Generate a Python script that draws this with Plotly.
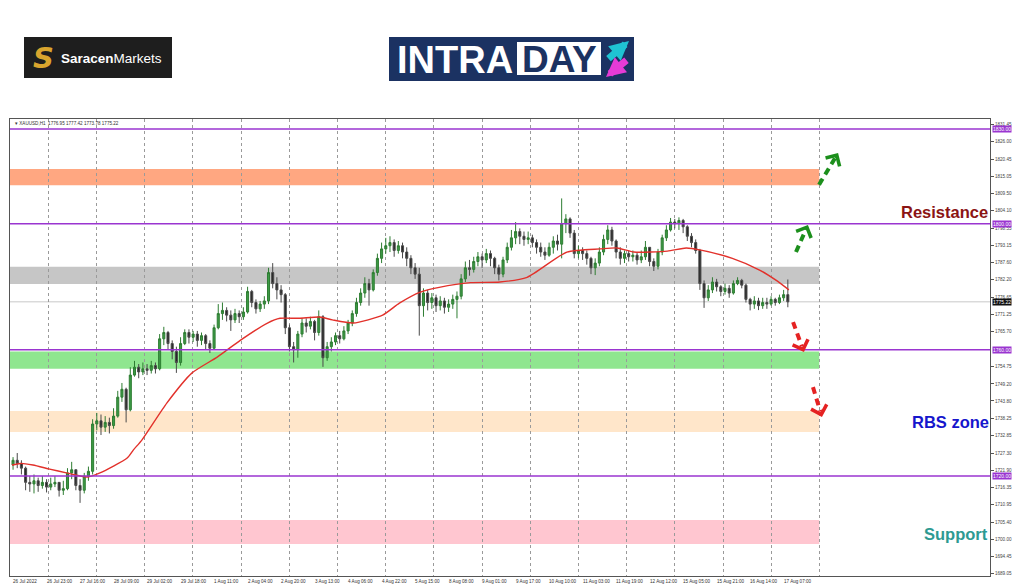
import plotly.graph_objects as go

# ---------------- data ----------------
# 2-hour candles, XAUUSD H1 chart 26 Jul 2022 -> 17 Aug 2022
first_open = 1723.5
closes = [
    1725.0, 1724.0, 1722.5, 1718.0, 1717.5, 1718.5, 1717.0, 1718.0, 1716.5, 1717.5,
    1718.0, 1715.5, 1716.0, 1721.0, 1722.0, 1717.0, 1715.5, 1720.0, 1721.5, 1736.5,
    1737.5, 1735.5, 1737.0, 1736.0, 1739.0, 1745.0, 1747.5, 1741.0, 1752.0, 1754.5,
    1753.0, 1754.0, 1753.5, 1755.0, 1754.0, 1763.5, 1765.5, 1762.0, 1759.5, 1756.0,
    1762.0, 1765.5, 1764.0, 1765.0, 1763.0, 1764.5, 1762.0, 1760.5, 1767.0, 1771.5,
    1772.5, 1771.0, 1769.5, 1771.5, 1770.5, 1772.0, 1778.5, 1775.0, 1773.0, 1774.5,
    1775.5, 1784.5, 1781.0, 1779.0, 1777.5, 1767.0, 1761.0, 1760.0, 1765.0, 1768.5,
    1767.5, 1769.0, 1765.5, 1770.5, 1757.5, 1761.0, 1762.5, 1764.5, 1763.5, 1766.0,
    1768.5, 1771.5, 1775.0, 1778.0, 1781.0, 1779.0, 1784.5, 1789.0, 1792.0, 1793.0,
    1794.0, 1791.5, 1793.0, 1791.0, 1789.0, 1786.0, 1784.0, 1774.0, 1778.0, 1775.0,
    1776.5, 1774.0, 1775.5, 1773.5, 1774.5, 1776.0, 1777.0, 1782.5, 1786.0, 1785.5,
    1788.0, 1789.5, 1788.5, 1790.5, 1789.0, 1786.0, 1784.0, 1788.5, 1792.5, 1795.5,
    1797.5, 1796.0, 1795.0, 1795.5, 1794.0, 1792.5, 1791.0, 1790.0, 1792.5, 1794.5,
    1793.5, 1800.0, 1801.5, 1797.0, 1790.5, 1791.5, 1790.5, 1789.0, 1786.0, 1787.5,
    1791.0, 1795.0, 1798.0, 1794.5, 1791.0, 1789.0, 1790.5, 1789.5, 1790.0, 1788.5,
    1789.5, 1792.5, 1788.0, 1786.5, 1791.0, 1795.5, 1798.0, 1800.5, 1800.0, 1801.0,
    1799.0, 1796.0, 1794.0, 1791.5, 1781.0, 1776.5, 1779.0, 1781.5, 1780.0, 1778.5,
    1779.5, 1778.0, 1781.0, 1782.0, 1780.5, 1776.0, 1774.5, 1775.5, 1774.0, 1775.0,
    1774.5, 1776.0, 1775.0, 1776.5, 1777.5, 1775.22,
]
highs = [
    1726.0, 1727.3, 1725.0, 1723.0, 1720.0, 1720.5, 1719.5, 1720.0, 1719.0, 1719.5,
    1720.0, 1718.0, 1718.5, 1722.5, 1724.5, 1722.0, 1719.0, 1721.0, 1723.0, 1738.0,
    1740.0, 1739.5, 1739.0, 1738.5, 1741.5, 1747.0, 1749.5, 1748.0, 1754.5, 1756.5,
    1755.5, 1756.0, 1755.5, 1756.5, 1756.0, 1765.0, 1767.3, 1766.0, 1763.0, 1761.0,
    1764.0, 1766.5, 1766.5, 1766.0, 1766.0, 1765.5, 1765.0, 1763.0, 1768.0, 1774.5,
    1775.0, 1773.5, 1772.5, 1773.0, 1772.5, 1773.5, 1780.0, 1779.0, 1776.0, 1775.5,
    1777.0, 1786.0, 1787.5, 1783.0, 1780.5, 1778.0, 1768.0, 1762.5, 1766.0, 1770.0,
    1770.0, 1770.5, 1769.5, 1772.5, 1771.0, 1762.5, 1764.0, 1765.5, 1766.0, 1767.5,
    1769.5, 1772.5, 1776.5, 1779.5, 1783.0, 1782.5, 1785.5, 1790.5, 1794.0, 1795.5,
    1796.0, 1795.0, 1794.5, 1794.0, 1792.5, 1790.0, 1787.5, 1786.0, 1779.5, 1779.0,
    1778.0, 1777.5, 1777.0, 1776.5, 1776.0, 1777.5, 1778.5, 1784.0, 1788.0, 1788.5,
    1789.5, 1791.0, 1790.5, 1792.0, 1791.5, 1789.5, 1787.0, 1789.5, 1794.0, 1798.0,
    1800.5, 1798.5, 1797.5, 1797.5, 1796.5, 1795.0, 1794.0, 1792.5, 1794.0, 1796.0,
    1796.5, 1808.0, 1803.0, 1802.0, 1798.0, 1793.0, 1792.5, 1791.5, 1789.5, 1789.0,
    1792.5, 1796.5, 1799.5, 1799.0, 1795.0, 1792.5, 1791.5, 1791.5, 1791.5, 1791.0,
    1791.5, 1794.5, 1792.5, 1789.0, 1792.0, 1796.5, 1799.5, 1801.8, 1801.5, 1802.0,
    1801.5, 1799.5, 1797.0, 1795.0, 1792.0, 1782.0, 1780.5, 1783.0, 1782.5, 1780.5,
    1781.0, 1780.5, 1782.0, 1783.0, 1782.5, 1781.0, 1776.5, 1777.0, 1776.5, 1776.5,
    1776.5, 1777.0, 1776.5, 1777.5, 1779.0, 1782.3,
]
lows = [
    1722.0, 1722.5, 1720.5, 1715.5, 1715.0, 1714.5, 1715.0, 1716.0, 1714.8, 1715.5,
    1716.5, 1713.5, 1714.0, 1715.5, 1719.0, 1715.5, 1711.5, 1714.5, 1718.5, 1720.5,
    1734.5, 1733.0, 1734.0, 1733.5, 1735.0, 1738.5, 1743.5, 1737.0, 1740.5, 1751.5,
    1751.0, 1752.0, 1752.0, 1752.5, 1752.5, 1753.5, 1761.5, 1760.0, 1757.0, 1752.7,
    1755.0, 1761.5, 1762.0, 1762.5, 1761.0, 1761.5, 1760.0, 1759.0, 1760.0, 1766.5,
    1769.5, 1769.0, 1766.0, 1768.5, 1768.5, 1769.5, 1771.5, 1773.5, 1771.5, 1772.0,
    1773.0, 1774.5, 1779.5, 1776.0, 1775.0, 1765.0, 1759.5, 1756.0, 1757.5, 1764.0,
    1765.5, 1766.5, 1763.0, 1764.5, 1754.6, 1756.5, 1759.5, 1761.5, 1762.0, 1763.0,
    1765.0, 1767.5, 1770.5, 1774.0, 1776.5, 1774.0, 1778.5, 1783.5, 1787.5, 1790.5,
    1791.0, 1789.5, 1790.5, 1789.0, 1786.5, 1784.0, 1782.5, 1764.5, 1770.5, 1772.5,
    1773.0, 1772.0, 1772.5, 1771.5, 1772.0, 1773.0, 1770.0, 1776.0, 1781.5, 1783.5,
    1784.5, 1786.5, 1786.0, 1787.5, 1786.5, 1784.0, 1782.0, 1783.0, 1787.5, 1791.5,
    1793.5, 1793.5, 1793.0, 1793.5, 1792.5, 1790.5, 1789.5, 1788.5, 1789.5, 1790.5,
    1791.5, 1789.0, 1797.0, 1795.5, 1789.0, 1789.0, 1788.5, 1787.0, 1784.0, 1783.7,
    1786.5, 1790.0, 1793.5, 1793.0, 1789.0, 1787.0, 1787.5, 1788.0, 1788.0, 1787.0,
    1787.5, 1788.5, 1786.5, 1785.0, 1785.5, 1790.0, 1794.5, 1797.5, 1798.5, 1798.0,
    1797.0, 1794.5, 1792.5, 1790.5, 1779.0, 1773.3, 1775.5, 1778.0, 1778.5, 1777.0,
    1777.5, 1776.5, 1777.5, 1780.5, 1779.5, 1775.0, 1772.5, 1773.0, 1772.6, 1773.0,
    1773.0, 1774.0, 1774.0, 1774.5, 1775.5, 1773.5,
]
opens = [first_open] + closes[:-1]

# moving average (red line), x in hourly bar index
ma_bar = [0, 4, 10, 18, 26, 36, 42, 55, 58, 62, 74, 86, 98, 109, 122, 128, 137, 147, 153, 163,
          177, 185, 195, 204, 219, 233, 246, 265, 281, 289, 297, 313, 322, 329, 344, 357, 365, 371]
ma_val = [1723.5, 1724.0, 1723.5, 1722.2, 1721.0, 1719.7, 1721.0, 1725.7, 1728.3, 1731.4,
          1743.2, 1752.7, 1757.7, 1763.0, 1768.5, 1770.0, 1770.0, 1770.4, 1769.5, 1768.5,
          1771.0, 1774.8, 1778.3, 1779.8, 1781.3, 1781.5, 1783.0, 1791.0, 1792.0, 1792.3,
          1791.0, 1791.3, 1792.3, 1791.6, 1789.0, 1785.3, 1782.0, 1779.0]

# zones
zone_top = [1817.3, 1786.3, 1759.5, 1740.6, 1706.1]
zone_bot = [1812.2, 1780.9, 1754.0, 1734.0, 1698.5]
zone_col = ["#FFA781", "#C6C6C6", "#8FE68F", "#FFE6CA", "#FFC6D0"]
zone_end_bar = 385.5

# horizontal levels
levels = [1830.0, 1800.0, 1760.0, 1720.0]
level_labels = ["1830.00", "1800.00", "1760.00", "1720.00"]
last_price = 1775.22

# axis ticks
y_ticks = [1831.45, 1826.00, 1820.45, 1815.05, 1809.50, 1804.10, 1798.55, 1793.15, 1787.60,
           1782.20, 1776.65, 1771.25, 1765.70, 1754.75, 1749.20, 1743.80, 1738.25, 1732.85,
           1727.30, 1721.90, 1716.35, 1710.95, 1705.40, 1700.00, 1694.45, 1689.05]
x_labels = ["26 Jul 2022", "26 Jul 23:00", "27 Jul 16:00", "28 Jul 09:00", "29 Jul 02:00",
            "29 Jul 18:00", "1 Aug 11:00", "2 Aug 04:00", "2 Aug 20:00", "3 Aug 13:00",
            "4 Aug 06:00", "4 Aug 22:00", "5 Aug 15:00", "8 Aug 08:00", "9 Aug 01:00",
            "9 Aug 17:00", "10 Aug 10:00", "11 Aug 03:00", "11 Aug 19:00", "12 Aug 12:00",
            "15 Aug 05:00", "15 Aug 21:00", "16 Aug 14:00", "17 Aug 07:00"]
x_label_step = 16   # hourly bars between labels

# arrows: (tail bar, tail price, head bar, head price, colour)
arrows = [
    (385.4, 1812.3, 394.5, 1822.4, "#1C8F1C"),
    (374.4, 1791.0, 380.1, 1799.6, "#1C8F1C"),
    (373.0, 1768.8, 378.2, 1759.3, "#E52222"),
    (382.5, 1748.2, 386.8, 1738.7, "#E52222"),
]

# ---------------- geometry ----------------
W, H = 1024, 587
PX0, PX1, PY0, PY1 = 10, 990, 119, 576
BAR_PX, X0_PX = 2.094, 12.0
PPU, Y_REF_PX, Y_REF = 3.155, 129.0, 1830.0
x_lo = (PX0 - X0_PX) / BAR_PX
x_hi = (PX1 - X0_PX) / BAR_PX
y_hi = Y_REF + (Y_REF_PX - PY0) / PPU
y_lo = Y_REF - (PY1 - Y_REF_PX) / PPU


def px(x, y):
    return (x - PX0) / (PX1 - PX0), (PY1 - y) / (PY1 - PY0)


def to_px(i, p):
    return X0_PX + i * BAR_PX, Y_REF_PX + (Y_REF - p) * PPU


FONT = "Liberation Sans, Arial, sans-serif"
candle_x = [2 * j + 0.5 for j in range(len(closes))]

fig = go.Figure()
fig.add_trace(go.Candlestick(
    x=candle_x, open=opens, high=highs, low=lows, close=closes,
    increasing=dict(line=dict(color="#2E7D32", width=1), fillcolor="#3C9A46"),
    decreasing=dict(line=dict(color="#4A4A4A", width=1), fillcolor="#262626"),
    whiskerwidth=0, hoverinfo="skip", showlegend=False,
))
fig.add_trace(go.Scatter(
    x=ma_bar, y=ma_val, mode="lines", line=dict(color="#E2312B", width=1.4, shape="spline", smoothing=0.6),
    hoverinfo="skip", showlegend=False,
))

shapes = []
annotations = []

# zones
for t, b, c in zip(zone_top, zone_bot, zone_col):
    shapes.append(dict(type="rect", xref="x", yref="y", x0=x_lo, x1=zone_end_bar, y0=b, y1=t,
                       fillcolor=c, line=dict(width=0), layer="below"))

# last price line
shapes.append(dict(type="line", xref="paper", yref="y", x0=0, x1=1, y0=last_price, y1=last_price,
                   line=dict(color="#C8C8C8", width=1), layer="between"))

# levels
for lv, lab in zip(levels, level_labels):
    shapes.append(dict(type="line", xref="paper", yref="y", x0=0, x1=1, y0=lv, y1=lv,
                       line=dict(color="#9A35D0", width=1.5), layer="above"))
    annotations.append(dict(xref="paper", yref="y", x=1.0, y=lv, xanchor="left", yanchor="middle",
                            xshift=2, text=lab, showarrow=False, bgcolor="#9A35D0",
                            font=dict(family=FONT, size=5, color="white"), borderpad=0))
annotations.append(dict(xref="paper", yref="y", x=1.0, y=last_price, xanchor="left", yanchor="middle",
                        xshift=2, text=f"{last_price:.2f}", showarrow=False, bgcolor="#111111",
                        font=dict(family=FONT, size=5, color="white"), borderpad=0))

# x labels
for k, lab in enumerate(x_labels):
    annotations.append(dict(xref="x", yref="paper", x=k * x_label_step, y=px(0, 581)[1],
                            xanchor="left", yanchor="middle", xshift=-1, text=lab, showarrow=False,
                            font=dict(family=FONT, size=4.6, color="#333333")))

# header
hx, hy = px(13, 123.5)
annotations.append(dict(xref="paper", yref="paper", x=hx, y=hy, xanchor="left", yanchor="middle",
                        text="▾ XAUUSD,H1  1776.95 1777.42 1773.78 1775.22", showarrow=False,
                        font=dict(family=FONT, size=4.6, color="#333333")))

# chart arrows
for ti, tp, hi, hp, col in arrows:
    tx, ty = to_px(ti, tp)
    hx_, hy_ = to_px(hi, hp)
    dx, dy = hx_ - tx, hy_ - ty
    n = (dx * dx + dy * dy) ** 0.5
    ux, uy = dx / n, dy / n
    shapes.append(dict(type="line", xref="x", yref="y", x0=ti, y0=tp,
                       x1=hi - ux * 6 / BAR_PX, y1=hp + uy * 6 / PPU,
                       line=dict(color=col, width=4, dash="7px,5px"), layer="above"))
    annotations.append(dict(xref="x", yref="y", x=hi, y=hp, ax=-ux * 7, ay=-uy * 7, text="",
                            showarrow=True, arrowhead=4, arrowsize=0.9, arrowwidth=3.5, arrowcolor=col))

# labels
for text, cx, cy, col in [("Resistance", 944.5, 212, "#8B1414"),
                          ("RBS zone", 950, 422, "#1616CC"),
                          ("Support", 956, 534, "#2E9A92")]:
    ax_, ay_ = px(cx, cy)
    annotations.append(dict(xref="paper", yref="paper", x=ax_, y=ay_, xanchor="center", yanchor="middle",
                            text=f"<b>{text}</b>", showarrow=False,
                            font=dict(family=FONT, size=16.5, color=col)))

# Saracen Markets logo
x0, y0 = px(24, 78); x1, y1 = px(172, 37)
shapes.append(dict(type="rect", xref="paper", yref="paper", x0=x0, x1=x1, y0=y0, y1=y1,
                   fillcolor="#1E1E1E", line=dict(width=0), layer="above"))
sx, sy = px(43, 58)
annotations.append(dict(xref="paper", yref="paper", x=sx, y=sy, xanchor="center", yanchor="middle",
                        text="<b><i>S</i></b>", showarrow=False,
                        font=dict(family="DejaVu Sans, sans-serif", size=29, color="#D9A52E")))
tx_, ty_ = px(59, 58)
annotations.append(dict(xref="paper", yref="paper", x=tx_, y=ty_, xanchor="left", yanchor="middle",
                        text="<b>Saracen</b>Markets", showarrow=False,
                        font=dict(family=FONT, size=13.5, color="white")))

# INTRADAY logo
x0, y0 = px(389, 81); x1, y1 = px(634, 37)
shapes.append(dict(type="rect", xref="paper", yref="paper", x0=x0, x1=x1, y0=y0, y1=y1,
                   fillcolor="#1B3262", line=dict(width=0), layer="above"))
x0, y0 = px(517, 75); x1, y1 = px(601, 42)
shapes.append(dict(type="rect", xref="paper", yref="paper", x0=x0, x1=x1, y0=y0, y1=y1,
                   fillcolor="white", line=dict(width=0), layer="above"))
ix, iy = px(455, 60)
annotations.append(dict(xref="paper", yref="paper", x=ix, y=iy, xanchor="center", yanchor="middle",
                        text="<b>INTRA</b>", showarrow=False, font=dict(family=FONT, size=38, color="white")))
dx_, dy_ = px(559, 60)
annotations.append(dict(xref="paper", yref="paper", x=dx_, y=dy_, xanchor="center", yanchor="middle",
                        text="<b>DAY</b>", showarrow=False, font=dict(family=FONT, size=37, color="#1B3262")))
cx_, cy_ = px(629, 41)
annotations.append(dict(xref="paper", yref="paper", x=cx_, y=cy_, ax=-22, ay=19, text="", showarrow=True,
                        arrowhead=2, arrowsize=0.55, arrowwidth=7, arrowcolor="#1FC3D3"))
mx_, my_ = px(606, 77)
annotations.append(dict(xref="paper", yref="paper", x=mx_, y=my_, ax=22, ay=-18, text="", showarrow=True,
                        arrowhead=2, arrowsize=0.55, arrowwidth=7, arrowcolor="#E63BD6"))

grid_x = [17.3 + 23.02 * k for k in range(17)]

fig.update_layout(
    width=W, height=H,
    margin=dict(l=PX0, r=W - PX1, t=PY0, b=H - PY1),
    paper_bgcolor="white", plot_bgcolor="rgba(0,0,0,0)",
    showlegend=False, shapes=shapes, annotations=annotations,
    xaxis=dict(range=[x_lo, x_hi], tickvals=grid_x, showticklabels=False, ticks="",
               showgrid=True, gridcolor="#9A9A9A", griddash="dot", gridwidth=1,
               zeroline=False, showline=True, mirror=True, linecolor="#555555", linewidth=1,
               rangeslider=dict(visible=False), fixedrange=True),
    yaxis=dict(range=[y_lo, y_hi], side="right", tickvals=y_ticks,
               ticktext=[f"{v:.2f}" for v in y_ticks],
               tickfont=dict(family=FONT, size=4.6, color="#444444"),
               ticks="outside", ticklen=3, tickcolor="#555555",
               showgrid=False, zeroline=False, showline=True, mirror=True,
               linecolor="#555555", linewidth=1, fixedrange=True),
)

fig.write_html("out.html", config={"displayModeBar": False},
               post_script="document.body.style.margin='0';document.body.style.overflow='hidden';")
